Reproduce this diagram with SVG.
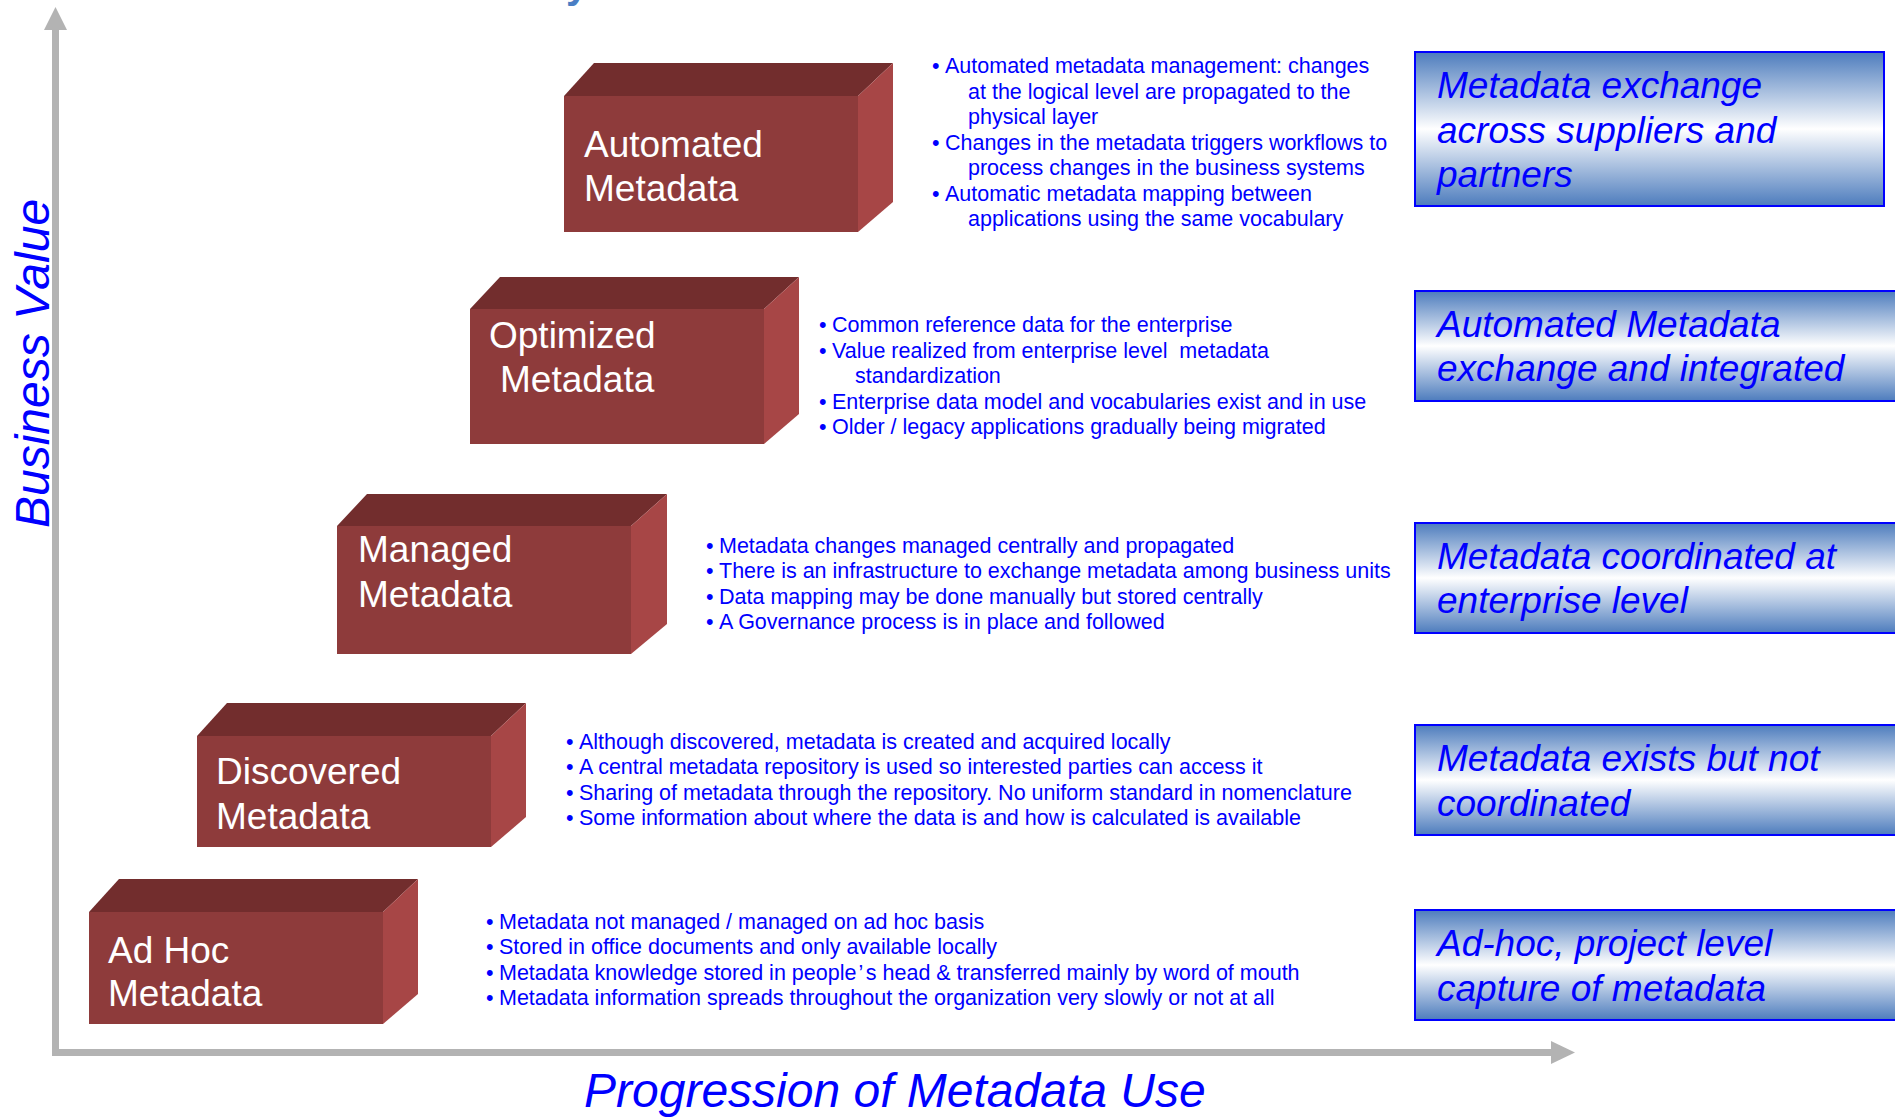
<svg xmlns="http://www.w3.org/2000/svg" width="1895" height="1117" viewBox="0 0 1895 1117">
  <defs>
    <linearGradient id="boxGrad" x1="0" y1="0" x2="0" y2="1">
      <stop offset="0" stop-color="#4d7cbd"/>
      <stop offset="0.5" stop-color="#ffffff"/>
      <stop offset="1" stop-color="#4d7cbd"/>
    </linearGradient>
  </defs>
  <style>
    .top{fill:#722d2d}
    .front{fill:#8e3b3b}
    .side{fill:#a74646}
    .lbl{font-family:"Liberation Sans",Arial,sans-serif;font-size:37px;fill:#ffffff}
    .bul{font-family:"Liberation Sans",Arial,sans-serif;font-size:21.5px;fill:#0000ff}
    .cap{fill:url(#boxGrad);stroke:#0000ff;stroke-width:2}
    .capt{font-family:"Liberation Sans",Arial,sans-serif;font-size:37px;font-style:italic;fill:#0000ff}
    .axis{fill:#b3b3b3}
    .axt{font-family:"Liberation Sans",Arial,sans-serif;font-size:48px;font-style:italic;fill:#0000ff}
  </style>

  <rect width="1895" height="1117" fill="#ffffff"/>

  <!-- fragment of the heading above the chart -->
  <text x="566" y="-2" font-family="Liberation Sans, Arial, sans-serif" font-size="40" font-weight="bold" fill="#4a7ec4">y</text>

  <!-- axes -->
  <g id="connectors">
    <g id="axis-y">
      <rect class="axis" x="52" y="29" width="7" height="1027"/>
      <polygon class="axis" points="55.5,7 67,30 44,30"/>
    </g>
    <g id="axis-x">
      <rect class="axis" x="52" y="1049" width="1500" height="7"/>
      <polygon class="axis" points="1551,1041 1575,1052.5 1551,1064"/>
    </g>
  </g>

  <text class="axt" transform="translate(49,528) rotate(-90)">Business Value</text>
  <text class="axt" x="584" y="1107">Progression of Metadata Use</text>

  <!-- maturity blocks -->
  <g id="block-automated">
    <polygon class="top" points="564,96 594,63 893,63 858,96"/>
    <rect class="front" x="564" y="96" width="294" height="136"/>
    <polygon class="side" points="858,96 893,63 893,202 858,232"/>
    <text class="lbl" x="584" y="157">Automated</text>
    <text class="lbl" x="584" y="201">Metadata</text>
  </g>
  <g id="block-optimized">
    <polygon class="top" points="470,309 500,277 799,277 764,309"/>
    <rect class="front" x="470" y="309" width="294" height="135"/>
    <polygon class="side" points="764,309 799,277 799,414 764,444"/>
    <text class="lbl" x="489" y="348">Optimized</text>
    <text class="lbl" x="500" y="392">Metadata</text>
  </g>
  <g id="block-managed">
    <polygon class="top" points="337,526 367,494 667,494 631,526"/>
    <rect class="front" x="337" y="526" width="294" height="128"/>
    <polygon class="side" points="631,526 667,494 667,624 631,654"/>
    <text class="lbl" x="358" y="562">Managed</text>
    <text class="lbl" x="358" y="607">Metadata</text>
  </g>
  <g id="block-discovered">
    <polygon class="top" points="197,736 227,703 526,703 491,736"/>
    <rect class="front" x="197" y="736" width="294" height="111"/>
    <polygon class="side" points="491,736 526,703 526,817 491,847"/>
    <text class="lbl" x="216" y="784">Discovered</text>
    <text class="lbl" x="216" y="829">Metadata</text>
  </g>
  <g id="block-adhoc">
    <polygon class="top" points="89,912 119,879 418,879 383,912"/>
    <rect class="front" x="89" y="912" width="294" height="112"/>
    <polygon class="side" points="383,912 418,879 418,994 383,1024"/>
    <text class="lbl" x="108" y="963">Ad Hoc</text>
    <text class="lbl" x="108" y="1006">Metadata</text>
  </g>

  <!-- characteristics of each level -->
  <g id="notes-automated" class="bul">
    <text y="73"><tspan x="932">•</tspan><tspan x="945">Automated metadata management: changes</tspan></text>
    <text x="968" y="98.5">at the logical level are propagated to the</text>
    <text x="968" y="124">physical layer</text>
    <text y="149.5"><tspan x="932">•</tspan><tspan x="945">Changes in the metadata triggers workflows to</tspan></text>
    <text x="968" y="175">process changes in the business systems</text>
    <text y="200.5"><tspan x="932">•</tspan><tspan x="945">Automatic metadata mapping between</tspan></text>
    <text x="968" y="226">applications using the same vocabulary</text>
  </g>
  <g id="notes-optimized" class="bul">
    <text y="332"><tspan x="819">•</tspan><tspan x="832">Common reference data for the enterprise</tspan></text>
    <text y="357.5"><tspan x="819">•</tspan><tspan x="832">Value realized from enterprise level&#160; metadata</tspan></text>
    <text x="855" y="383">standardization</text>
    <text y="408.5"><tspan x="819">•</tspan><tspan x="832">Enterprise data model and vocabularies exist and in use</tspan></text>
    <text y="434"><tspan x="819">•</tspan><tspan x="832">Older / legacy applications gradually being migrated</tspan></text>
  </g>
  <g id="notes-managed" class="bul">
    <text y="552.5"><tspan x="706">•</tspan><tspan x="719">Metadata changes managed centrally and propagated</tspan></text>
    <text y="578"><tspan x="706">•</tspan><tspan x="719">There is an infrastructure to exchange metadata among business units</tspan></text>
    <text y="603.5"><tspan x="706">•</tspan><tspan x="719">Data mapping may be done manually but stored centrally</tspan></text>
    <text y="629"><tspan x="706">•</tspan><tspan x="719">A Governance process is in place and followed</tspan></text>
  </g>
  <g id="notes-discovered" class="bul">
    <text y="748.5"><tspan x="566">•</tspan><tspan x="579">Although discovered, metadata is created and acquired locally</tspan></text>
    <text y="774"><tspan x="566">•</tspan><tspan x="579">A central metadata repository is used so interested parties can access it</tspan></text>
    <text y="799.5"><tspan x="566">•</tspan><tspan x="579">Sharing of metadata through the repository. No uniform standard in nomenclature</tspan></text>
    <text y="825"><tspan x="566">•</tspan><tspan x="579">Some information about where the data is and how is calculated is available</tspan></text>
  </g>
  <g id="notes-adhoc" class="bul">
    <text y="928.5"><tspan x="486">•</tspan><tspan x="499">Metadata not managed / managed on ad hoc basis</tspan></text>
    <text y="954"><tspan x="486">•</tspan><tspan x="499">Stored in office documents and only available locally</tspan></text>
    <text y="979.5"><tspan x="486">•</tspan><tspan x="499">Metadata knowledge stored in people<tspan dx="2">’</tspan><tspan dx="3">s head &amp; transferred mainly by word of mouth</tspan></tspan></text>
    <text y="1005"><tspan x="486">•</tspan><tspan x="499">Metadata information spreads throughout the organization very slowly or not at all</tspan></text>
  </g>

  <!-- summary captions -->
  <g id="caption-automated">
    <rect class="cap" x="1415" y="52" width="469" height="154"/>
    <text class="capt" x="1437" y="98">Metadata exchange</text>
    <text class="capt" x="1437" y="143">across suppliers and</text>
    <text class="capt" x="1437" y="187">partners</text>
  </g>
  <g id="caption-optimized">
    <rect class="cap" x="1415" y="291" width="490" height="110"/>
    <text class="capt" x="1437" y="337">Automated Metadata</text>
    <text class="capt" x="1437" y="381">exchange and integrated</text>
  </g>
  <g id="caption-managed">
    <rect class="cap" x="1415" y="523" width="490" height="110"/>
    <text class="capt" x="1437" y="569">Metadata coordinated at</text>
    <text class="capt" x="1437" y="613">enterprise level</text>
  </g>
  <g id="caption-discovered">
    <rect class="cap" x="1415" y="725" width="490" height="110"/>
    <text class="capt" x="1437" y="771">Metadata exists but not</text>
    <text class="capt" x="1437" y="816">coordinated</text>
  </g>
  <g id="caption-adhoc">
    <rect class="cap" x="1415" y="910" width="490" height="110"/>
    <text class="capt" x="1437" y="956">Ad-hoc, project level</text>
    <text class="capt" x="1437" y="1001">capture of metadata</text>
  </g>
</svg>
